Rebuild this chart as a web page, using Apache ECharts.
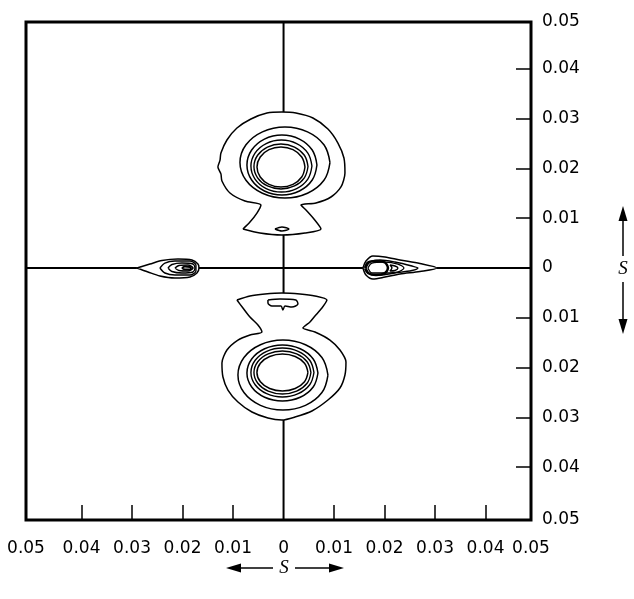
<!DOCTYPE html>
<html><head><meta charset="utf-8">
<script src="https://cdn.jsdelivr.net/npm/echarts@6/dist/echarts.min.js"></script>
<style>html,body{margin:0;padding:0;background:#fff}#c{width:634px;height:599px}</style>
</head><body><div id="c"></div>
<script>
// All coordinates in units of 0.001 (s x 10^3)
const xLabelValues = [-51,-40,-30,-20,-10,0,10,20,30,40,49];
const xLabelTexts  = ['0.05','0.04','0.03','0.02','0.01','0','0.01','0.02','0.03','0.04','0.05'];
const xTickValues  = [-40,-30,-20,-10,10,20,30,40];
const yLabelValues = [-50.6,-40,-30,-20,-10,0,10,20,30,40,49.4];
const yLabelTexts  = ['0.05','0.04','0.03','0.02','0.01','0','0.01','0.02','0.03','0.04','0.05'];
const yTickValues  = [-40,-30,-20,-10,10,20,30,40];

// crosshair (s = 0 lines), interrupted by the contour groups
const hLineSegments = [[[-51,0],[-29.03,0]], [[-16.75,0],[15.72,0]], [[30.38,0],[49,0]]];
const vLineSegments = [[[0,49.4],[0,31.33]], [[0,6.63],[0,-5.02]], [[0,-30.52],[0,-50.6]]];

// upper meridional reflection
const upperOuter = [[-8.04,7.83],[-4.67,7.03],[-0.32,6.63],[4.24,7.03],[7.41,7.83],[6.02,9.84],[4.44,11.65],[3.45,12.65],[6.42,13.05],[9.39,14.26],[11.37,16.27],[12.16,19.08],[11.96,22.09],[10.77,25.10],[8.79,27.91],[5.82,30.12],[2.46,31.12],[-0.32,31.33],[-3.29,31.12],[-6.46,29.92],[-9.23,28.11],[-11.21,25.70],[-12.40,23.09],[-12.59,21.6],[-13.0,20.28],[-12.4,18.9],[-12.20,17.47],[-10.61,15.06],[-7.64,13.45],[-4.48,12.65],[-5.27,11.04],[-6.65,9.24]];
const upperDash  = [[-1.70,7.83],[-0.32,8.23],[1.07,7.83],[-0.32,7.43]];
const upperRingA = [[9.19,21.18],[8.00,24.75],[4.74,27.35],[0.28,28.31],[-4.18,27.35],[-7.44,24.75],[-8.63,21.18],[-7.44,17.61],[-4.18,15.01],[0.28,14.05],[4.74,15.01],[8.00,17.61]];
const upperRingB = [[6.61,20.68],[5.68,23.69],[3.15,25.89],[-0.32,26.70],[-3.79,25.89],[-6.32,23.69],[-7.25,20.68],[-6.32,17.67],[-3.79,15.47],[-0.32,14.66],[3.15,15.47],[5.68,17.67]];
const upperRingC = [[5.62,20.48],[4.81,23.09],[2.60,25.00],[-0.42,25.70],[-3.44,25.00],[-5.65,23.09],[-6.46,20.48],[-5.65,17.87],[-3.44,15.96],[-0.42,15.26],[2.60,15.96],[4.81,17.87]];
const upperRingD = [[4.84,20.38],[4.12,22.64],[2.17,24.29],[-0.51,24.90],[-3.19,24.29],[-5.14,22.64],[-5.86,20.38],[-5.14,18.12],[-3.19,16.47],[-0.51,15.86],[2.17,16.47],[4.12,18.12]];
const upperRingE = [[4.24,20.28],[3.60,22.29],[1.87,23.76],[-0.51,24.30],[-2.89,23.76],[-4.62,22.29],[-5.26,20.28],[-4.62,18.27],[-2.89,16.80],[-0.51,16.26],[1.87,16.80],[3.60,18.27]];

// lower meridional reflection
const lowerOuter = [[-9.23,-6.43],[-6.65,-5.62],[-3.68,-5.22],[-0.32,-5.02],[3.25,-5.22],[6.22,-5.62],[8.59,-6.43],[7.60,-8.03],[6.22,-9.64],[5.23,-10.84],[3.84,-12.05],[6.22,-12.85],[9.19,-14.46],[11.17,-16.47],[12.36,-18.88],[12.16,-21.49],[11.17,-24.10],[8.79,-26.51],[5.62,-28.71],[2.26,-29.92],[-0.32,-30.52],[-3.09,-30.12],[-6.26,-28.92],[-9.03,-26.91],[-11.01,-24.50],[-12.00,-21.89],[-12.20,-19.08],[-11.21,-16.47],[-9.03,-14.46],[-6.65,-13.45],[-4.28,-12.85],[-5.07,-11.45],[-6.65,-9.84],[-8.04,-8.03]];
const lowerBlob  = [[-3.09,-6.43],[-0.71,-6.22],[2.44,-6.43],[2.85,-7.23],[1.66,-7.83],[0.28,-7.63],[-0.12,-8.43],[-0.51,-7.63],[-2.30,-7.63],[-3.09,-7.03]];
const lowerRingA = [[8.79,-21.49],[7.60,-17.97],[4.34,-15.40],[-0.12,-14.46],[-4.58,-15.40],[-7.84,-17.97],[-9.03,-21.49],[-7.84,-25.01],[-4.58,-27.58],[-0.12,-28.52],[4.34,-27.58],[7.60,-25.01]];
const lowerRingB = [[6.81,-21.08],[5.87,-18.27],[3.30,-16.21],[-0.22,-15.46],[-3.74,-16.21],[-6.31,-18.27],[-7.25,-21.08],[-6.31,-23.89],[-3.74,-25.95],[-0.22,-26.70],[3.30,-25.95],[5.87,-23.89]];
const lowerRingC = [[6.02,-20.98],[5.18,-18.52],[2.90,-16.72],[-0.22,-16.06],[-3.34,-16.72],[-5.62,-18.52],[-6.46,-20.98],[-5.62,-23.44],[-3.34,-25.24],[-0.22,-25.90],[2.90,-25.24],[5.18,-23.44]];
const lowerRingD = [[5.42,-20.98],[4.66,-18.82],[2.60,-17.24],[-0.22,-16.66],[-3.04,-17.24],[-5.10,-18.82],[-5.86,-20.98],[-5.10,-23.14],[-3.04,-24.72],[-0.22,-25.30],[2.60,-24.72],[4.66,-23.14]];
const lowerRingE = [[4.83,-20.98],[4.15,-19.12],[2.31,-17.77],[-0.22,-17.27],[-2.75,-17.77],[-4.59,-19.12],[-5.27,-20.98],[-4.59,-22.84],[-2.75,-24.19],[-0.22,-24.69],[2.31,-24.19],[4.15,-22.84]];

// equatorial streak, left
const leftStreak1 = [[-29.03,0],[-26.46,0.80],[-24.08,1.51],[-20.91,1.81],[-18.14,1.61],[-16.95,0.80],[-16.75,0],[-17.15,-1.00],[-18.53,-1.81],[-21.50,-2.01],[-24.48,-1.61],[-26.85,-0.80]];
const leftStreak2 = [[-24.48,0],[-23.49,1.00],[-21.50,1.41],[-18.53,1.41],[-17.35,0.60],[-17.35,-0.60],[-18.53,-1.41],[-21.50,-1.41],[-23.49,-1.00]];
const leftStreak3 = [[-22.89,0],[-22.10,0.70],[-20.12,1.00],[-17.94,0.80],[-17.54,0],[-17.94,-0.80],[-20.12,-1.00],[-22.10,-0.70]];
const leftStreak4 = [[-21.50,0],[-20.71,0.50],[-18.93,0.60],[-17.94,0],[-18.93,-0.60],[-20.71,-0.50]];
const leftStreak5 = [[-20.12,0],[-19.52,0.30],[-18.53,0.20],[-18.34,0],[-18.53,-0.30],[-19.52,-0.30]];

// equatorial streak, right
const rightStreak1 = [[15.72,0],[16.32,1.41],[17.70,2.41],[20.08,2.21],[23.05,1.61],[27.01,0.90],[30.38,0],[27.01,-0.70],[23.05,-1.20],[20.08,-1.81],[17.70,-2.21],[16.32,-1.41]];
const rightStreak2 = [[16.32,0],[17.11,1.20],[19.09,1.61],[22.06,1.20],[25.43,0.40],[26.61,0],[25.43,-0.50],[22.06,-1.00],[19.09,-1.41],[17.11,-1.20]];
const rightStreak3 = [[16.71,0],[17.50,1.00],[20.08,1.20],[22.65,0.80],[23.84,0],[22.65,-0.80],[20.08,-1.00],[17.50,-1.00]];
const rightStreak4 = [[16.12,0],[16.71,1.10],[18.30,1.41],[20.08,1.10],[20.67,0],[20.08,-1.00],[18.30,-1.41],[16.71,-1.00]];
const rightStreak5 = [[21.07,0.60],[22.06,0.40],[22.65,0],[22.06,-0.50],[21.07,-0.60],[21.46,0]];

function closed(a){ return a.concat([a[0]]); }
function pick(values, texts, v){
  let best = 0, d = Infinity;
  values.forEach((x,i)=>{ const e = Math.abs(x - v); if (e < d){ d = e; best = i; } });
  return texts[best];
}

const series = [];
function addLine(data, width, smooth){
  series.push({type:'line', data:data, symbol:'none', showSymbol:false, smooth:smooth,
    lineStyle:{color:'#000', width:width}, silent:true, animation:false, z:3});
}
hLineSegments.forEach(s => addLine(s, 2, false));
vLineSegments.forEach(s => addLine(s, 2, false));
[[upperOuter,1.5,0.25],[upperDash,1.5,0.3],[upperRingA,1.5,0.4],[upperRingB,1.5,0.4],[upperRingC,1.4,0.4],[upperRingD,1.4,0.4],[upperRingE,1.5,0.4],
 [lowerOuter,1.5,0.25],[lowerBlob,1.5,0.3],[lowerRingA,1.5,0.4],[lowerRingB,1.5,0.4],[lowerRingC,1.4,0.4],[lowerRingD,1.4,0.4],[lowerRingE,1.5,0.4],
 [leftStreak1,1.5,0.3],[leftStreak2,1.4,0.3],[leftStreak3,1.4,0.3],[leftStreak4,1.6,0.3],[leftStreak5,2,0.3],
 [rightStreak1,1.5,0.3],[rightStreak2,1.4,0.3],[rightStreak3,1.3,0.3],[rightStreak4,2.5,0.3],[rightStreak5,1.4,0.3]
].forEach(c => addLine(closed(c[0]), c[1], c[2]));

const labelFont = {color:'#000', fontFamily:'DejaVu Sans', fontSize:17};
const chart = echarts.init(document.getElementById('c'), null, {renderer:'canvas'});
chart.setOption({
  animation:false,
  backgroundColor:'#fff',
  grid:{left:26, right:103, top:22, bottom:79, show:true, borderColor:'#000', borderWidth:3, backgroundColor:'transparent'},
  xAxis:{type:'value', min:-51, max:49, position:'bottom',
    axisLine:{show:false, onZero:false}, splitLine:{show:false},
    axisTick:{show:true, inside:true, length:15, customValues:xTickValues, lineStyle:{color:'#000', width:1.5}},
    axisLabel:Object.assign({margin:20, customValues:xLabelValues, formatter:v=>pick(xLabelValues,xLabelTexts,v)}, labelFont)},
  yAxis:{type:'value', min:-50.6, max:49.4, position:'right',
    axisLine:{show:false, onZero:false}, splitLine:{show:false},
    axisTick:{show:true, inside:true, length:15, customValues:yTickValues, lineStyle:{color:'#000', width:1.5}},
    axisLabel:Object.assign({margin:11, customValues:yLabelValues, formatter:v=>pick(yLabelValues,yLabelTexts,v)}, labelFont)},
  series:series,
  graphic:[
    {type:'line', shape:{x1:236,y1:568,x2:273,y2:568}, style:{stroke:'#000', lineWidth:1.5}},
    {type:'polygon', shape:{points:[[226,568],[241,563.5],[241,572.5]]}, style:{fill:'#000'}},
    {type:'text', x:284, y:568, style:{text:'S', fontFamily:'Liberation Serif', fontStyle:'italic', fontSize:19, fill:'#000', align:'center', verticalAlign:'middle'}},
    {type:'line', shape:{x1:295,y1:568,x2:333,y2:568}, style:{stroke:'#000', lineWidth:1.5}},
    {type:'polygon', shape:{points:[[344,568],[329,563.5],[329,572.5]]}, style:{fill:'#000'}},
    {type:'line', shape:{x1:623,y1:218,x2:623,y2:256}, style:{stroke:'#000', lineWidth:1.5}},
    {type:'polygon', shape:{points:[[623,206],[618.5,221],[627.5,221]]}, style:{fill:'#000'}},
    {type:'text', x:623, y:269, style:{text:'S', fontFamily:'Liberation Serif', fontStyle:'italic', fontSize:19, fill:'#000', align:'center', verticalAlign:'middle'}},
    {type:'line', shape:{x1:623,y1:282,x2:623,y2:322}, style:{stroke:'#000', lineWidth:1.5}},
    {type:'polygon', shape:{points:[[623,334],[618.5,319],[627.5,319]]}, style:{fill:'#000'}}
  ]
});
</script></body></html>
